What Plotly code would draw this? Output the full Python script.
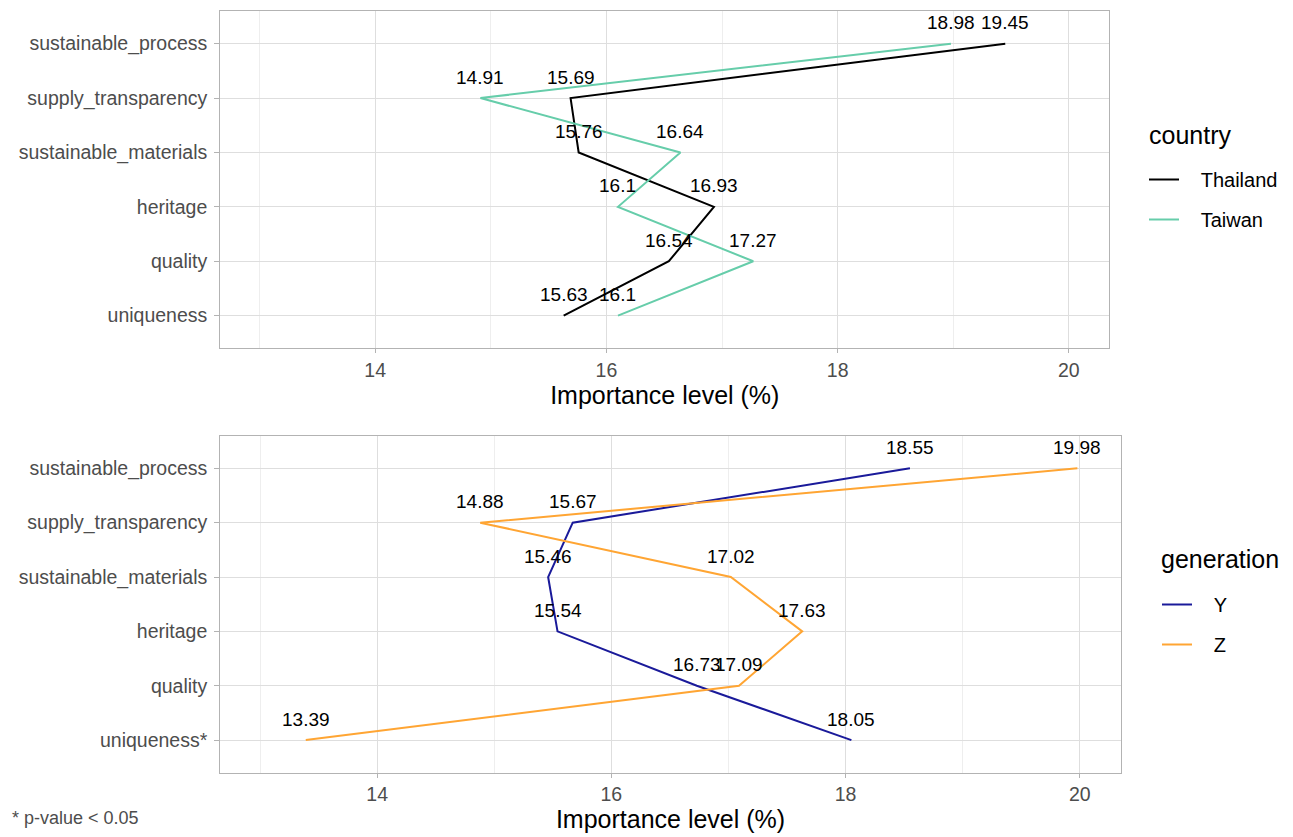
import plotly.graph_objects as go

# ---- data ----
attributes = ["sustainable_process", "supply_transparency", "sustainable_materials",
              "heritage", "quality", "uniqueness"]
attributes_gen = ["sustainable_process", "supply_transparency", "sustainable_materials",
                  "heritage", "quality", "uniqueness*"]
thailand = [19.45, 15.69, 15.76, 16.93, 16.54, 15.63]
taiwan = [18.98, 14.91, 16.64, 16.10, 17.27, 16.10]
gen_y = [18.55, 15.67, 15.46, 15.54, 16.73, 18.05]
gen_z = [19.98, 14.88, 17.02, 17.63, 17.09, 13.39]
x_ticks = [14, 16, 18, 20]
x_range = [12.66, 20.35]

W, H = 1293, 837
OFF = 8  # page body margin
FONT = "Liberation Sans, Arial, Helvetica, sans-serif"
GRID = "#DEDEDE"
MINOR = "#EEEEEE"
BORDER = "#B3B3B3"
TICKTXT = "#4D4D4D"
PAD = "\u00a0\u00a0\u00a0"

col_th, col_tw = "#000000", "#66CDAA"
col_y, col_z = "#1A1A9A", "#FFA533"

def px_x(p):
    return (p - OFF) / W

def px_y(p):
    return 1 - (p - OFF) / H

fig = go.Figure()

series = [
    ("Thailand", thailand, attributes, col_th, "x", "y", "legend"),
    ("Taiwan", taiwan, attributes, col_tw, "x", "y", "legend"),
    ("Y", gen_y, attributes_gen, col_y, "x2", "y2", "legend2"),
    ("Z", gen_z, attributes_gen, col_z, "x2", "y2", "legend2"),
]

annotations = []
for name, vals, cats, col, xa, ya, lg in series:
    fig.add_trace(go.Scatter(
        x=vals, y=cats, mode="lines", name=PAD + name,
        line=dict(color=col, width=2),
        xaxis=xa, yaxis=ya, legend=lg, legendgroup=name,
        hoverinfo="x+y",
    ))
    for v, c in zip(vals, cats):
        annotations.append(dict(
            x=v, y=c, xref=xa, yref=ya, text=f"{v:g}", showarrow=False,
            yshift=21, xanchor="center", yanchor="middle",
            font=dict(family=FONT, size=19, color="#000000"),
        ))

# legend titles
annotations.append(dict(
    x=px_x(1147), y=px_y(135), xref="paper", yref="paper", text="country",
    showarrow=False, xanchor="left", yanchor="middle",
    font=dict(family=FONT, size=25, color="#000000"),
))
annotations.append(dict(
    x=px_x(1159), y=px_y(559), xref="paper", yref="paper", text="generation",
    showarrow=False, xanchor="left", yanchor="middle",
    font=dict(family=FONT, size=25, color="#000000"),
))
# footnote
annotations.append(dict(
    x=px_x(10), y=px_y(818), xref="paper", yref="paper", text="* p-value < 0.05",
    showarrow=False, xanchor="left", yanchor="middle",
    font=dict(family=FONT, size=18, color=TICKTXT),
))

def xaxis_cfg(domain, anchor):
    return dict(
        domain=domain, anchor=anchor, range=x_range, tickvals=x_ticks,
        ticktext=[str(t) for t in x_ticks],
        showgrid=True, gridcolor=GRID, gridwidth=1,
        minor=dict(dtick=1, tick0=0, showgrid=True, gridcolor=MINOR, gridwidth=1, ticks=""),
        showline=True, linecolor=BORDER, linewidth=1.2, mirror=True,
        ticks="outside", ticklen=4, tickcolor=BORDER, tickwidth=1,
        tickfont=dict(family=FONT, size=19.5, color=TICKTXT),
        ticklabelstandoff=0,
        title=dict(text="Importance level (%)", standoff=3,
                   font=dict(family=FONT, size=25, color="#000000")),
        zeroline=False, fixedrange=True, automargin=False,
    )

def yaxis_cfg(domain, anchor, cats):
    order = list(reversed(cats))
    return dict(
        domain=domain, anchor=anchor, type="category",
        categoryorder="array", categoryarray=order, range=[-0.6, 5.6],
        showgrid=True, gridcolor=GRID, gridwidth=1,
        showline=True, linecolor=BORDER, linewidth=1.2, mirror=True,
        ticks="outside", ticklen=5, tickcolor=BORDER, tickwidth=1,
        tickfont=dict(family=FONT, size=19.5, color=TICKTXT),
        ticklabelstandoff=3,
        zeroline=False, fixedrange=True, automargin=False,
    )

fig.update_layout(
    width=W, height=H,
    margin=dict(l=0, r=0, t=0, b=0, autoexpand=False),
    paper_bgcolor="white", plot_bgcolor="white",
    font=dict(family=FONT, color="#000000"),
    xaxis=xaxis_cfg([px_x(220.3), px_x(1109.3)], "y"),
    yaxis=yaxis_cfg([px_y(348.3), px_y(11)], "x", attributes),
    xaxis2=xaxis_cfg([px_x(220.3), px_x(1120.7)], "y2"),
    yaxis2=yaxis_cfg([px_y(772.7), px_y(435.7)], "x2", attributes_gen),
    legend=dict(
        x=px_x(1144), y=px_y(160), xanchor="left", yanchor="top",
        font=dict(family=FONT, size=20, color="#000000"),
        bgcolor="rgba(0,0,0,0)", tracegroupgap=11, itemwidth=30,
    ),
    legend2=dict(
        x=px_x(1157), y=px_y(585), xanchor="left", yanchor="top",
        font=dict(family=FONT, size=20, color="#000000"),
        bgcolor="rgba(0,0,0,0)", tracegroupgap=11, itemwidth=30,
    ),
    annotations=annotations,
    showlegend=True,
)

fig.write_html("out.html")
